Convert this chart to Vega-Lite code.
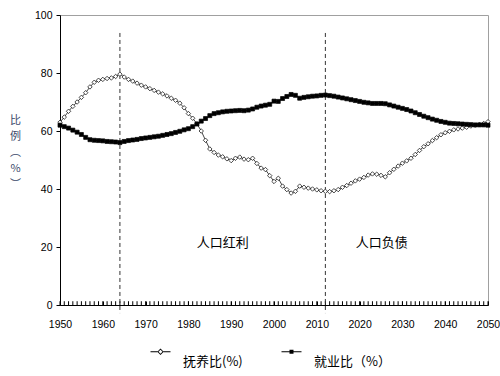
{
  "$schema": "https://vega.github.io/schema/vega-lite/v6.json",
  "width": 428,
  "height": 290,
  "autosize": {"type": "none"},
  "padding": {"left": 60, "top": 15, "right": 12, "bottom": 71},
  "background": "white",
  "config": {
    "view": {"stroke": "#a0a0a0", "strokeWidth": 1},
    "axis": {"labelFont": "Liberation Sans", "labelFontSize": 10.5, "labelColor": "#000", "domainColor": "#000", "tickColor": "#000", "grid": false},
    "legend": {"labelFont": "Noto Sans CJK SC", "labelFontSize": 13, "labelColor": "#000"}
  },
  "datasets": {
    "ratios": [
      {"year":1950,"dep":63.0,"emp":62.0},{"year":1951,"dep":64.8,"emp":61.5},{"year":1952,"dep":66.8,"emp":61.0},{"year":1953,"dep":68.5,"emp":60.3},{"year":1954,"dep":70.0,"emp":59.6},
      {"year":1955,"dep":71.6,"emp":58.8},{"year":1956,"dep":73.2,"emp":57.8},{"year":1957,"dep":75.2,"emp":57.0},{"year":1958,"dep":76.8,"emp":56.8},{"year":1959,"dep":77.5,"emp":56.7},
      {"year":1960,"dep":77.8,"emp":56.6},{"year":1961,"dep":78.1,"emp":56.4},{"year":1962,"dep":78.3,"emp":56.3},{"year":1963,"dep":78.8,"emp":56.2},{"year":1964,"dep":79.6,"emp":56.0},
      {"year":1965,"dep":78.6,"emp":56.4},{"year":1966,"dep":77.8,"emp":56.7},{"year":1967,"dep":77.2,"emp":56.9},{"year":1968,"dep":76.5,"emp":57.1},{"year":1969,"dep":75.8,"emp":57.4},
      {"year":1970,"dep":75.2,"emp":57.6},{"year":1971,"dep":74.6,"emp":57.8},{"year":1972,"dep":74.0,"emp":58.0},{"year":1973,"dep":73.4,"emp":58.2},{"year":1974,"dep":72.8,"emp":58.5},
      {"year":1975,"dep":72.1,"emp":58.8},{"year":1976,"dep":71.3,"emp":59.1},{"year":1977,"dep":70.6,"emp":59.5},{"year":1978,"dep":69.6,"emp":59.9},{"year":1979,"dep":68.0,"emp":60.4},
      {"year":1980,"dep":66.0,"emp":60.8},{"year":1981,"dep":64.4,"emp":61.5},{"year":1982,"dep":62.5,"emp":62.4},{"year":1983,"dep":60.0,"emp":63.4},{"year":1984,"dep":56.8,"emp":64.3},
      {"year":1985,"dep":53.8,"emp":65.3},{"year":1986,"dep":52.6,"emp":66.0},{"year":1987,"dep":51.7,"emp":66.3},{"year":1988,"dep":51.1,"emp":66.6},{"year":1989,"dep":50.4,"emp":66.8},
      {"year":1990,"dep":49.8,"emp":66.9},{"year":1991,"dep":50.6,"emp":67.0},{"year":1992,"dep":51.0,"emp":67.1},{"year":1993,"dep":50.3,"emp":67.0},{"year":1994,"dep":50.1,"emp":67.2},
      {"year":1995,"dep":50.6,"emp":67.6},{"year":1996,"dep":48.8,"emp":68.2},{"year":1997,"dep":47.2,"emp":68.6},{"year":1998,"dep":46.7,"emp":68.9},{"year":1999,"dep":44.6,"emp":69.2},
      {"year":2000,"dep":42.6,"emp":70.3},{"year":2001,"dep":43.7,"emp":70.2},{"year":2002,"dep":41.0,"emp":71.2},{"year":2003,"dep":39.8,"emp":71.9},{"year":2004,"dep":38.6,"emp":72.6},
      {"year":2005,"dep":39.2,"emp":72.3},{"year":2006,"dep":41.0,"emp":71.3},{"year":2007,"dep":40.6,"emp":71.6},{"year":2008,"dep":40.3,"emp":71.8},{"year":2009,"dep":40.0,"emp":72.0},
      {"year":2010,"dep":39.7,"emp":72.1},{"year":2011,"dep":39.4,"emp":72.3},{"year":2012,"dep":39.2,"emp":72.4},{"year":2013,"dep":39.1,"emp":72.2},{"year":2014,"dep":39.4,"emp":72.0},
      {"year":2015,"dep":39.8,"emp":71.7},{"year":2016,"dep":40.6,"emp":71.4},{"year":2017,"dep":41.2,"emp":71.1},{"year":2018,"dep":42.0,"emp":70.8},{"year":2019,"dep":42.8,"emp":70.5},
      {"year":2020,"dep":43.4,"emp":70.2},{"year":2021,"dep":44.0,"emp":69.9},{"year":2022,"dep":44.8,"emp":69.7},{"year":2023,"dep":45.2,"emp":69.5},{"year":2024,"dep":45.1,"emp":69.5},
      {"year":2025,"dep":44.7,"emp":69.5},{"year":2026,"dep":44.2,"emp":69.4},{"year":2027,"dep":45.6,"emp":69.0},{"year":2028,"dep":46.8,"emp":68.6},{"year":2029,"dep":47.9,"emp":68.2},
      {"year":2030,"dep":48.9,"emp":67.8},{"year":2031,"dep":49.7,"emp":67.4},{"year":2032,"dep":50.6,"emp":66.9},{"year":2033,"dep":51.9,"emp":66.3},{"year":2034,"dep":53.3,"emp":65.7},
      {"year":2035,"dep":54.6,"emp":65.1},{"year":2036,"dep":55.6,"emp":64.6},{"year":2037,"dep":56.7,"emp":64.1},{"year":2038,"dep":57.7,"emp":63.7},{"year":2039,"dep":58.7,"emp":63.3},
      {"year":2040,"dep":59.4,"emp":63.0},{"year":2041,"dep":59.9,"emp":62.7},{"year":2042,"dep":60.4,"emp":62.6},{"year":2043,"dep":60.7,"emp":62.5},{"year":2044,"dep":61.0,"emp":62.4},
      {"year":2045,"dep":61.3,"emp":62.3},{"year":2046,"dep":61.7,"emp":62.2},{"year":2047,"dep":62.0,"emp":62.1},{"year":2048,"dep":62.3,"emp":62.1},{"year":2049,"dep":62.6,"emp":62.1},
      {"year":2050,"dep":63.2,"emp":62.0}
    ],
    "marks": [
      {"year": 1964, "top": 93.8, "bottom": -2.8},
      {"year": 2012, "top": 93.8, "bottom": -2.8}
    ],
    "notes": [
      {"year": 1988, "value": 21.4, "label": "人口红利"},
      {"year": 2025.2, "value": 21.4, "label": "人口负债"}
    ]
  },
  "encoding": {
    "x": {"field": "year", "type": "quantitative", "scale": {"domain": [1950, 2050], "nice": false, "zero": false},
      "axis": {"title": null, "format": "d", "values": [1950,1960,1970,1980,1990,2000,2010,2020,2030,2040,2050],
        "labelOverlap": false, "labelFlush": false, "tickSize": -4, "labelPadding": 18}}
  },
  "layer": [
    {
      "data": {"name": "ratios"},
      "mark": {"type": "rule", "color": "#000", "strokeWidth": 1},
      "encoding": {
        "y": {"datum": 0, "type": "quantitative", "scale": {"domain": [0, 100], "nice": false},
          "axis": {"values": [0, 20, 40, 60, 80, 100], "tickSize": 4, "labelPadding": 4,
            "title": ["比", "例", "︵", "%", "︶"], "titleAngle": 0, "titleX": -45, "titleY": 99, "titleBaseline": "top", "titleAlign": "center",
            "titleLineHeight": 16, "titleFont": "Noto Sans CJK SC", "titleFontSize": 11, "titleFontWeight": "normal", "titleColor": "#3b4a6b"}},
        "y2": {"datum": 1.3}
      }
    },
    {
      "data": {"name": "marks"},
      "mark": {"type": "rule", "color": "#333", "strokeWidth": 1, "strokeDash": [4, 3]},
      "encoding": {
        "y": {"field": "top", "type": "quantitative"},
        "y2": {"field": "bottom"}
      }
    },
    {
      "data": {"name": "ratios"},
      "mark": {"type": "line", "strokeWidth": 1, "color": "#444"},
      "encoding": {"y": {"field": "dep", "type": "quantitative"}}
    },
    {
      "data": {"name": "ratios"},
      "mark": {"type": "line", "strokeWidth": 1, "color": "#000"},
      "encoding": {"y": {"field": "emp", "type": "quantitative"}}
    },
    {
      "data": {"name": "ratios"},
      "mark": {"type": "point", "shape": "diamond", "filled": false, "fill": "#fff", "stroke": "#000", "strokeWidth": 0.7, "opacity": 1, "size": 20},
      "encoding": {"y": {"field": "dep", "type": "quantitative"}}
    },
    {
      "data": {"name": "ratios"},
      "mark": {"type": "point", "shape": "square", "filled": true, "fill": "#000", "stroke": "#000", "strokeWidth": 0.7, "opacity": 1, "size": 16},
      "encoding": {"y": {"field": "emp", "type": "quantitative"}}
    },
    {
      "data": {"name": "ratios"},
      "transform": [
        {"fold": ["dep", "emp"], "as": ["series", "value"]},
        {"filter": "datum.year < 0"}
      ],
      "mark": {"type": "point", "filled": false, "fill": "#000", "stroke": "#000", "color": "#000", "strokeWidth": 1, "opacity": 1},
      "encoding": {
        "y": {"field": "value", "type": "quantitative"},
        "shape": {"field": "series", "type": "nominal",
          "scale": {"domain": ["dep", "emp"], "range": [
            "M-1,-1.06H-0.3V-0.94H-1ZM0.3,-1.06H1V-0.94H0.3ZM0,-1.32L0.32,-1L0,-0.68L-0.32,-1ZM0,-1.2L-0.2,-1L0,-0.8L0.2,-1Z",
            "M-1,-1.06H1V-0.94H-1ZM-0.2,-1.2H0.2V-0.8H-0.2Z"]},
          "legend": {"title": null, "orient": "none", "legendX": 90, "legendY": 336, "direction": "horizontal",
            "symbolSize": 400, "symbolStrokeWidth": 1, "symbolOpacity": 1, "symbolFillColor": "#000", "symbolStrokeColor": "#000",
            "labelOffset": 12, "labelBaseline": "middle", "columnPadding": 36,
            "labelExpr": "datum.value === 'dep' ? '抚养比(%)' : '就业比（%）'"}}
      }
    },
    {
      "data": {"name": "notes"},
      "mark": {"type": "text", "font": "Noto Sans CJK SC", "fontSize": 13, "color": "#000", "align": "center", "baseline": "middle"},
      "encoding": {
        "y": {"field": "value", "type": "quantitative"},
        "text": {"field": "label"}
      }
    }
  ]
}
